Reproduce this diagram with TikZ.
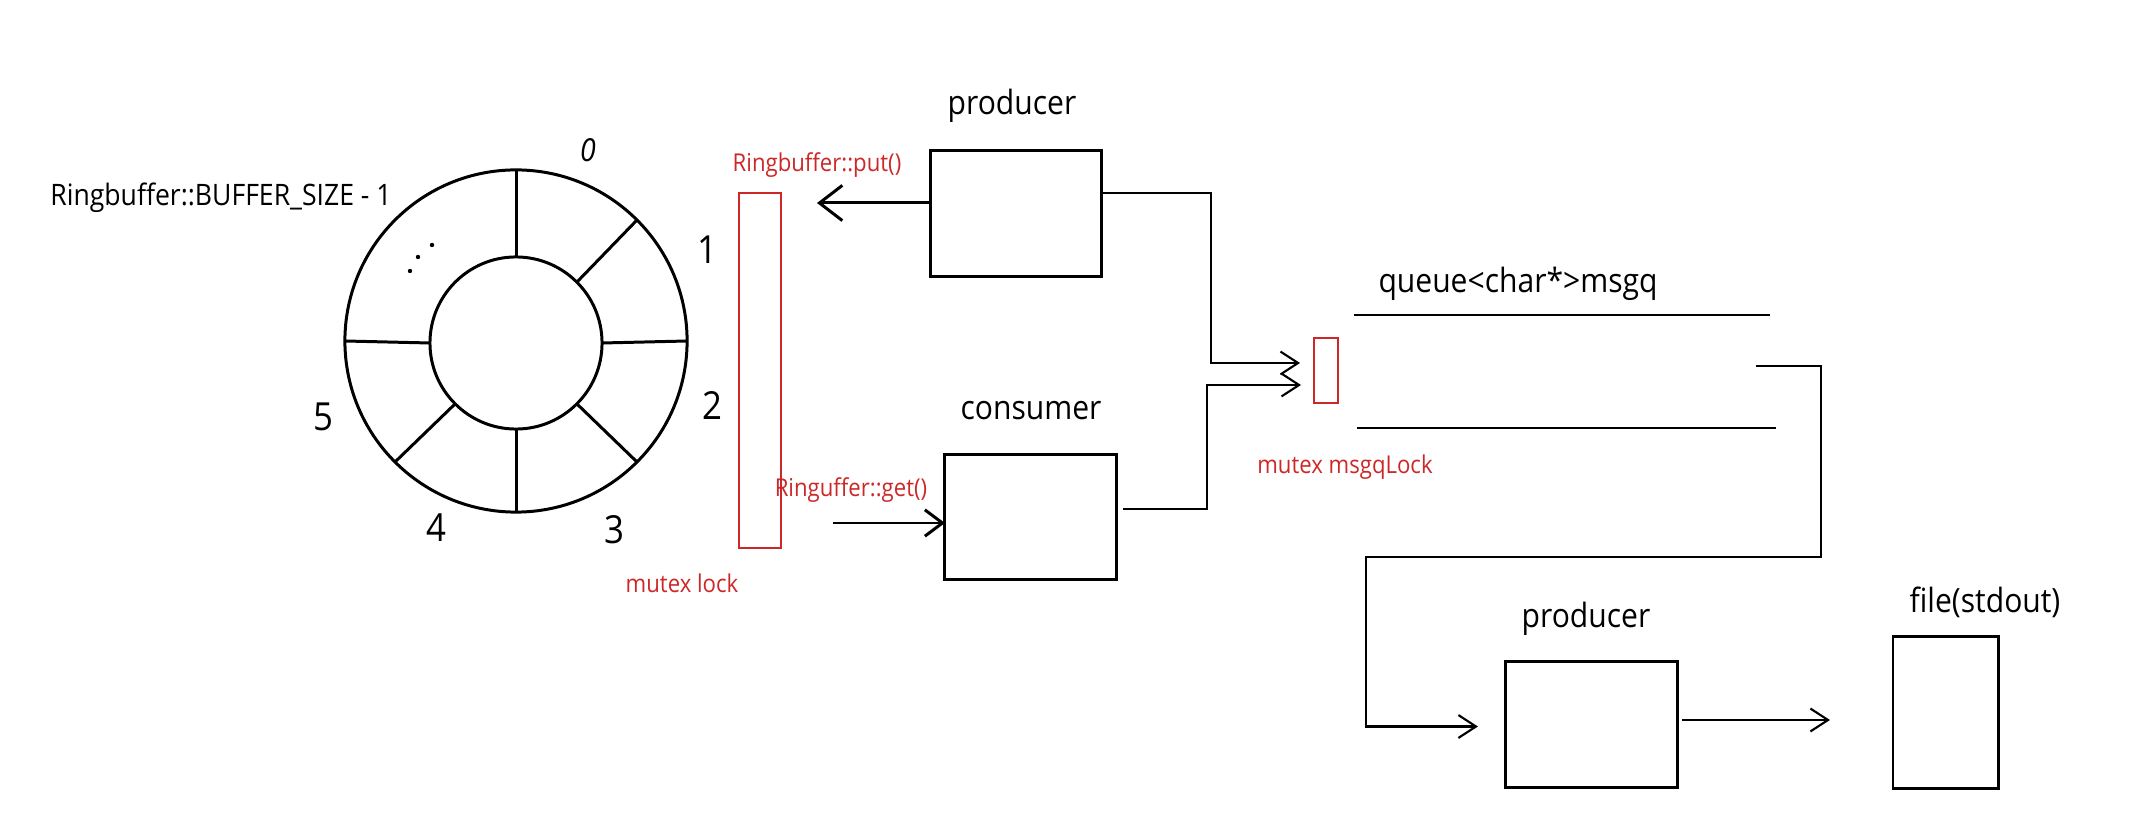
\documentclass[tikz,border=0pt]{standalone}
\usepackage{fontspec}
\setmainfont{Open Sans}[FakeStretch=0.9]
\usetikzlibrary{arrows.meta}
\definecolor{lockred}{RGB}{204,40,40}
\begin{document}
\begin{tikzpicture}[x=0.01cm,y=-0.01cm,
  box/.style={draw, line width=0.85pt, rectangle, inner sep=0pt, outer sep=0pt},
  lockbox/.style={draw=lockred, line width=0.7pt, rectangle, inner sep=0pt, outer sep=0pt},
  ring/.style={draw, line width=0.85pt, circle, inner sep=0pt, outer sep=0pt},
  spoke/.style={line width=0.85pt},
  lbl/.style={font=\fontsize{9.5}{11}\selectfont, anchor=base, inner sep=0pt},
  redlbl/.style={text=lockred, font=\fontsize{7}{8}\selectfont, anchor=base, inner sep=0pt},
  digit/.style={font=\fontsize{11}{12}\selectfont, inner sep=0pt},
  bigarrow/.style={line width=0.85pt, -{Straight Barb[length=6.5pt,width=10pt]}},
  midarrow/.style={line width=0.85pt, -{Straight Barb[length=5pt,width=7.5pt]}},
  thinarrow/.style={line width=0.6pt, -{Straight Barb[length=5pt,width=6.5pt]}},
  qline/.style={line width=0.85pt},
]
\useasboundingbox (0,0) rectangle (2134,828);

% ring buffer
\node[ring, minimum size=3.42cm] (outer) at (516,341) {};
\node[ring, minimum size=1.72cm] (inner) at (516,343) {};
\foreach \a in {90,45,0,-45,-90,-135,180}{
  \draw[spoke] (inner.\a) -- (outer.\a);
}
\fill (410,271) circle (2.2);
\fill (418,257) circle (2.2);
\fill (432,245) circle (2.2);

\node[digit, font=\itshape\fontsize{9}{10}\selectfont] (d0) at (588,150) {0};
\node[digit] (d1) at (707,250) {1};
\node[digit] (d2) at (712,405) {2};
\node[digit] (d3) at (614,530) {3};
\node[digit] (d4) at (436,528) {4};
\node[digit] (d5) at (323,417) {5};
\node[lbl, font=\fontsize{8.4}{10}\selectfont] (bsize) at (221,206) {Ringbuffer::BUFFER\_SIZE - 1};

% mutex lock
\node[lockbox, minimum width=0.42cm, minimum height=3.55cm] (lock) at (760,370.5) {};
\node[redlbl] (locklbl) at (682,593) {mutex lock};
\node[redlbl] (putlbl) at (817,172) {Ringbuffer::put()};
\node[redlbl] (getlbl) at (851,497) {Ringuffer::get()};

% producer / consumer
\node[box, minimum width=1.70cm, minimum height=1.25cm] (prod) at (1016,213.5) {};
\node[lbl] (prodlbl) at (1012,115) {producer};
\node[box, minimum width=1.71cm, minimum height=1.24cm] (cons) at (1030.5,517) {};
\node[lbl] (conslbl) at (1031,420) {consumer};

\coordinate (putTip) at (817,203);
\draw[bigarrow] (prod.west |- putTip) -- (putTip);
\coordinate (getStart) at (833,523);
\draw[midarrow] (getStart) -- (getStart -| cons.west);

% queue
\node[lockbox, minimum width=0.24cm, minimum height=0.65cm] (lockq) at (1326,370.5) {};
\node[redlbl] (lockqlbl) at (1345,474) {mutex msgqLock};
\node[lbl] (qlbl) at (1518,293) {queue<char*>msgq};
\coordinate (qtl) at (1354,315);
\coordinate (qtr) at (1770,315);
\coordinate (qbl) at (1357,428);
\coordinate (qbr) at (1776,428);
\draw[qline] (qtl) -- (qtr);
\draw[qline] (qbl) -- (qbr);

\draw[thinarrow] ([yshift=0.205cm]prod.east) -- ++(1.10cm,0) |- ([xshift=-0.14cm,yshift=0.075cm]lockq.west);
\draw[thinarrow] ([xshift=0.07cm,yshift=0.08cm]cons.east) -- ++(0.84cm,0) |- ([xshift=-0.13cm,yshift=-0.145cm]lockq.west);

% second stage
\node[box, minimum width=1.71cm, minimum height=1.25cm] (prod2) at (1591.5,724.5) {};
\node[lbl] (prod2lbl) at (1586,627) {producer};
\node[box, minimum width=1.05cm, minimum height=1.51cm] (file) at (1945.5,712.5) {};
\node[lbl] (filelbl) at (1985,612) {file(stdout)};

\coordinate (qout) at (1756,366);
\coordinate (turnA) at (1821,557);
\coordinate (turnB) at (1366,557);
\draw[thinarrow] (qout) -| (turnA) -- (turnB) |- ([xshift=-0.28cm,yshift=-0.02cm]prod2.west);

\coordinate (p2out) at ([xshift=0.05cm,yshift=0.045cm]prod2.east);
\path (p2out -| file.west) coordinate (fileIn);
\draw[thinarrow] (p2out) -- ([xshift=-0.63cm]fileIn);
\end{tikzpicture}
\end{document}
